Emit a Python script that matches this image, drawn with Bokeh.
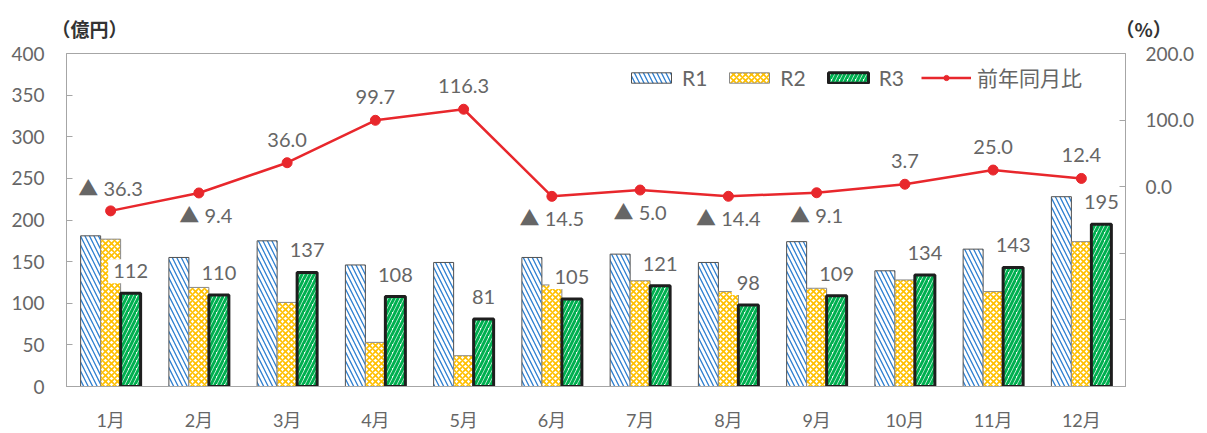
from bokeh.plotting import figure
from bokeh.models import (FactorRange, Range1d, LinearAxis, FixedTicker,
                          ColumnDataSource, Legend, LegendItem, Title)
from bokeh.transform import dodge
from bokeh.core.properties import value
from bokeh.embed import file_html
from bokeh.resources import INLINE

# Monthly amounts (億円) for three fiscal years and year-on-year change (%)
months = ["1月", "2月", "3月", "4月", "5月", "6月",
          "7月", "8月", "9月", "10月", "11月", "12月"]
r1 = [181, 155, 175, 146, 149, 155, 159, 149, 174, 139, 165, 228]
r2 = [177, 119, 101, 53, 37, 122, 127, 114, 118, 128, 114, 174]
r3 = [112, 110, 137, 108, 81, 105, 121, 98, 109, 134, 143, 195]
yoy = [-36.3, -9.4, 36.0, 99.7, 116.3, -14.5, -5.0, -14.4, -9.1, 3.7, 25.0, 12.4]
# where each year-on-year label sits relative to its point
yoy_label_side = ["above", "below", "above", "above", "above", "below",
                  "below", "below", "below", "above", "above", "above"]
left_ticks = [0, 50, 100, 150, 200, 250, 300, 350, 400]
right_ticks = [-300, -200, -100, 0, 100, 200]
left_unit, right_unit = "（億円）", "（%）"

FONT = "Lato, 'Noto Sans CJK JP', sans-serif"
GRAY = "#666666"
AXIS = "#a6a6a6"
RED = "#E8272C"
BLUE = "#2E7FD0"
YELLOW = "#FFC000"
GREEN = "#00B050"

W, H = 1207, 433
FRAME_L, FRAME_R = 66, 1125

p = figure(width=W, height=H,
           x_range=FactorRange(factors=months, range_padding=0),
           y_range=Range1d(0, 400),
           output_backend="svg", toolbar_location=None,
           min_border_left=FRAME_L, min_border_right=W - FRAME_R,
           min_border_top=52, min_border_bottom=43)
p.extra_y_ranges = {"pct": Range1d(-300, 200)}

# unit captions of both axes share one header line, spread apart with
# ideographic spaces so each sits over its own axis
p.add_layout(Title(text=left_unit + "\u3000" * 53 + right_unit,
                   align="left", offset=-15, standoff=24,
                   text_font="Noto Sans CJK JP", text_font_size="19px",
                   text_font_style="bold", text_color="#333333"), "above")

p.xgrid.visible = False
p.ygrid.visible = False
p.outline_line_color = AXIS
p.outline_line_width = 1
p.background_fill_color = "white"
p.border_fill_color = "white"

# left axis
p.yaxis.ticker = FixedTicker(ticks=left_ticks)
p.yaxis.major_tick_in = 6
p.yaxis.major_tick_out = 0
p.yaxis.minor_tick_line_color = None
p.yaxis.axis_line_color = AXIS
p.yaxis.major_tick_line_color = AXIS
p.yaxis.major_label_text_font = FONT
p.yaxis.major_label_text_font_size = "19px"
p.yaxis.major_label_text_color = GRAY
p.yaxis.major_label_standoff = 22

# bottom axis
p.xaxis.axis_line_color = AXIS
p.xaxis.major_tick_line_color = None
p.xaxis.minor_tick_line_color = None
p.xaxis.major_label_text_font = FONT
p.xaxis.major_label_text_font_size = "18px"
p.xaxis.major_label_text_color = GRAY
p.xaxis.major_label_standoff = 16

# right axis (%), labels only for the non-negative part
right = LinearAxis(y_range_name="pct", ticker=FixedTicker(ticks=right_ticks),
                   major_label_overrides={t: (f"{t:.1f}" if t >= 0 else "")
                                          for t in right_ticks})
right.major_tick_in = 6
right.major_tick_out = 0
right.minor_tick_line_color = None
right.axis_line_color = AXIS
right.major_tick_line_color = AXIS
right.major_label_text_font = FONT
right.major_label_text_font_size = "19px"
right.major_label_text_color = GRAY
right.major_label_standoff = 20
p.add_layout(right, "right")

src = ColumnDataSource(dict(month=months, r1=r1, r2=r2, r3=r3,
                            r3_txt=[str(v) for v in r3]))
bw = 0.2266

b1 = p.vbar(x=dodge("month", -bw, range=p.x_range), top="r1", width=bw,
            source=src, fill_color="white", line_color="#505050", line_width=1,
            hatch_pattern="left_diagonal_line", hatch_color=BLUE,
            hatch_scale=9, hatch_weight=1.3)
b2 = p.vbar(x=dodge("month", 0, range=p.x_range), top="r2", width=bw,
            source=src, fill_color="white", line_color="#8a8a8a", line_width=1,
            hatch_pattern="diagonal_cross", hatch_color=YELLOW,
            hatch_scale=6, hatch_weight=1.6)
b3 = p.vbar(x=dodge("month", bw, range=p.x_range), top="r3", width=bw,
            source=src, fill_color="white", line_color="#1e1e1e", line_width=3,
            hatch_pattern="right_diagonal_line", hatch_color=GREEN,
            hatch_scale=8, hatch_weight=3)

# value labels above the R3 bars
p.text(x=dodge("month", bw, range=p.x_range), y="r3", text="r3_txt",
       source=src, y_offset=-22, text_align="center", text_baseline="middle",
       text_font=value(FONT), text_font_size="20px", text_color=GRAY,
       background_fill_color="white", padding=5)

# year-on-year line
lsrc = ColumnDataSource(dict(
    month=months, yoy=yoy,
    txt=[(f"▲ {abs(v):.1f}" if v < 0 else f"{v:.1f}") for v in yoy],
    yo=[-23 if s == "above" else 22 for s in yoy_label_side],
    xo=[7 if (s == "below" and i == 1) else 0
        for i, s in enumerate(yoy_label_side)],
))
ln = p.line(x="month", y="yoy", source=lsrc, y_range_name="pct",
            line_color=RED, line_width=2.5)
pt = p.scatter(x="month", y="yoy", source=lsrc, y_range_name="pct",
               size=10, fill_color=RED, line_color=RED)
p.text(x="month", y="yoy", text="txt", source=lsrc, y_range_name="pct",
       x_offset="xo", y_offset="yo", text_align="center", text_baseline="middle",
       text_font=value(FONT), text_font_size="20px", text_color=GRAY)

legend = Legend(items=[LegendItem(label="R1", renderers=[b1]),
                       LegendItem(label="R2", renderers=[b2]),
                       LegendItem(label="R3", renderers=[b3]),
                       LegendItem(label="前年同月比", renderers=[ln, pt])],
                orientation="horizontal", location=(560, 294),
                glyph_width=50, glyph_height=13, label_standoff=6, spacing=17,
                padding=0, margin=0, border_line_color=None,
                background_fill_alpha=0, label_text_font=FONT,
                label_text_font_size="21px", label_text_color=GRAY)
p.add_layout(legend)

open("out.html", "w").write(file_html(p, INLINE))
